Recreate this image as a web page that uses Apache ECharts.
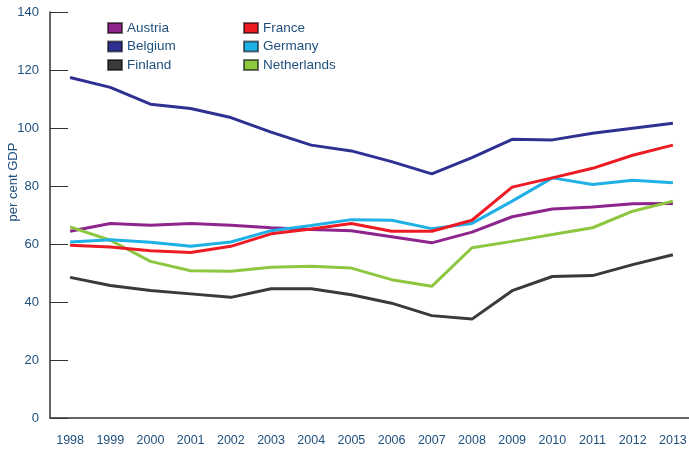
<!DOCTYPE html>
<html>
<head>
<meta charset="utf-8">
<script src="https://cdn.jsdelivr.net/npm/echarts@6/dist/echarts.min.js"></script>
<style>
    html, body { margin: 0; padding: 0; background: #fff; }
    #myChart { width: 689px; height: 452px; }
</style>
</head>
<body>
<div id="myChart"></div>
<script>
    // 年份
    var years = ['1998', '1999', '2000', '2001', '2002', '2003', '2004', '2005',
                 '2006', '2007', '2008', '2009', '2010', '2011', '2012', '2013'];

    var austria     = [64.4, 67.1, 66.5, 67.1, 66.5, 65.6, 65.0, 64.6, 62.5, 60.4, 64.1, 69.4, 72.1, 72.8, 73.9, 74.0];
    var belgium     = [117.4, 114.0, 108.2, 106.7, 103.6, 98.6, 94.1, 92.1, 88.4, 84.2, 89.8, 96.1, 95.9, 98.2, 99.9, 101.6];
    var finland     = [48.5, 45.7, 44.0, 42.8, 41.6, 44.6, 44.6, 42.5, 39.6, 35.3, 34.1, 43.9, 48.8, 49.1, 52.9, 56.3];
    var france      = [59.6, 59.0, 57.7, 57.1, 59.2, 63.5, 65.2, 67.1, 64.4, 64.4, 68.2, 79.6, 82.8, 86.1, 90.6, 94.1];
    var germany     = [60.7, 61.5, 60.6, 59.2, 60.7, 64.6, 66.4, 68.4, 68.2, 65.3, 67.1, 74.8, 82.8, 80.5, 82.0, 81.1];
    var netherlands = [65.9, 61.3, 54.0, 50.8, 50.6, 52.0, 52.3, 51.7, 47.7, 45.4, 58.7, 60.9, 63.3, 65.6, 71.3, 74.8];

    var textColor = '#1f4f7d';
    var font = 'Liberation Sans';

    function line(name, data, color) {
        return {
            name: name,
            type: 'line',
            data: data,
            symbol: 'none',
            color: color,
            lineStyle: { width: 3, color: color },
            itemStyle: { color: color, borderColor: 'rgba(0,0,0,0.55)', borderWidth: 1 }
        };
    }

    var legendText = { color: textColor, fontSize: 13.5, fontFamily: font };

    var options = {
        animation: false,
        backgroundColor: '#fff',
        // 纵轴标题，位置偏上
        graphic: {
            type: 'text',
            x: 13,
            y: 182,
            rotation: Math.PI / 2,
            style: {
                text: 'per cent GDP',
                fill: textColor,
                fontSize: 13,
                fontFamily: font,
                align: 'center',
                verticalAlign: 'middle'
            }
        },
        legend: [
            {
                orient: 'vertical',
                left: 102,
                top: 16,
                itemWidth: 14,
                itemHeight: 10,
                itemGap: 4.5,
                icon: 'rect',
                textStyle: legendText,
                data: ['Austria', 'Belgium', 'Finland']
            },
            {
                orient: 'vertical',
                left: 238,
                top: 16,
                itemWidth: 14,
                itemHeight: 10,
                itemGap: 4.5,
                icon: 'rect',
                textStyle: legendText,
                data: ['France', 'Germany', 'Netherlands']
            }
        ],
        grid: { left: 50, right: -4, top: 12, bottom: 34, outerBoundsMode: 'none', containLabel: false },
        xAxis: {
            type: 'category',
            data: years,
            boundaryGap: true,
            axisLine: { lineStyle: { color: '#333', width: 1.5 } },
            axisTick: { inside: true, length: 11, lineStyle: { color: '#333' } },
            axisLabel: { color: textColor, fontSize: 12.5, fontFamily: font, margin: 16 }
        },
        yAxis: {
            type: 'value',
            min: 0,
            max: 140,
            interval: 20,
            splitLine: { show: false },
            axisLine: { show: true, lineStyle: { color: '#333', width: 1.5 } },
            axisTick: { show: true, inside: true, length: 18, lineStyle: { color: '#333' } },
            axisLabel: { color: textColor, fontSize: 13, fontFamily: font, margin: 11 }
        },
        series: [
            line('Austria', austria, '#8e258d'),
            line('Belgium', belgium, '#2e3192'),
            line('Finland', finland, '#3a3a3a'),
            line('Netherlands', netherlands, '#8dc63f'),
            line('Germany', germany, '#1fb0e6'),
            line('France', france, '#ed1c24')
        ]
    };

    var mycharts = echarts.init(document.getElementById('myChart'));
    mycharts.setOption(options);
</script>
</body>
</html>
